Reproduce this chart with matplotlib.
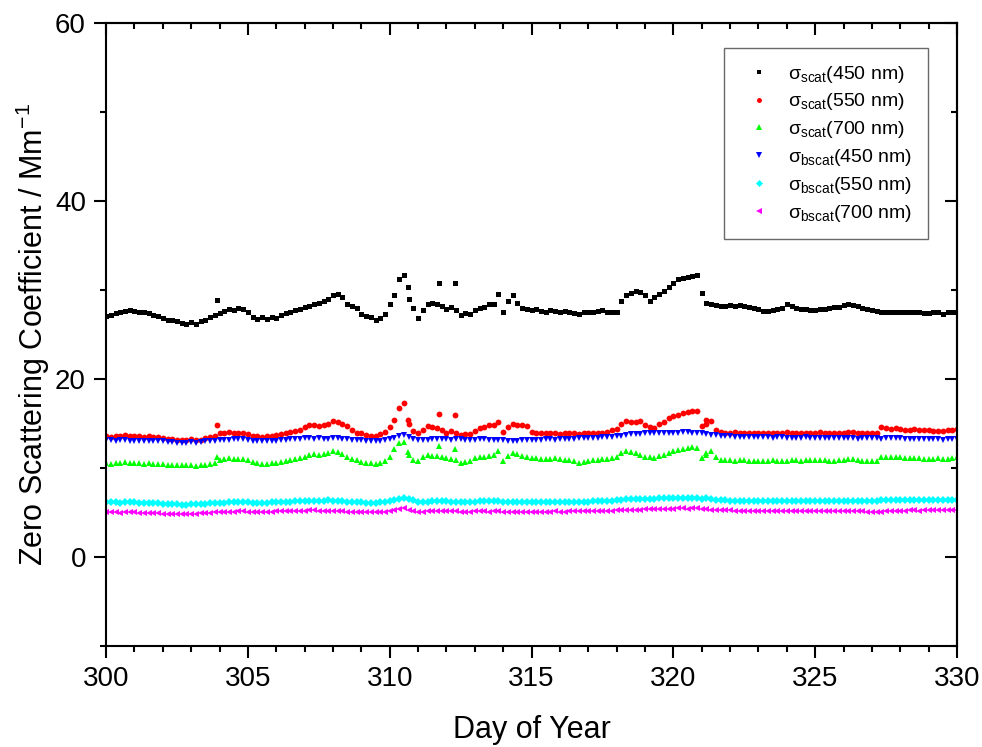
import matplotlib
matplotlib.use('Agg')
import matplotlib.pyplot as plt
import numpy as np

plt.rcParams['font.family'] = ['Liberation Sans', 'DejaVu Sans']
plt.rcParams['mathtext.fontset'] = 'custom'
plt.rcParams['mathtext.rm'] = 'Liberation Sans'
plt.rcParams['mathtext.it'] = 'Liberation Sans:italic'

# day of year, every 4 hours
days = np.linspace(300, 330, 181)

# values, one row = one day
scat_450 = [27.1, 27.2, 27.4, 27.5, 27.7, 27.8,
            27.7, 27.6, 27.5, 27.4, 27.2, 27.1,
            26.9, 26.7, 26.6, 26.5, 26.3, 26.2,
            26.4, 26.2, 26.5, 26.7, 27.0, 27.2,
            27.4, 27.7, 27.9, 27.8, 28.0, 27.9,
            27.6, 27.0, 26.8, 27.0, 26.8, 27.0,
            26.9, 27.2, 27.4, 27.6, 27.8, 27.9,
            28.1, 28.2, 28.4, 28.6, 28.8, 29.0,
            29.4, 29.6, 29.2, 28.5, 28.2, 28.0,
            27.3, 27.1, 27.0, 26.7, 26.9, 27.3,
            28.4, 29.5, 31.2, 31.7, 29.0, 28.0,
            26.9, 27.8, 28.5, 28.6, 28.4, 28.2,
            27.9, 28.1, 27.8, 27.2, 27.4, 27.3,
            27.8, 28.0, 28.1, 28.5, 28.4, 29.6,
            27.5, 28.8, 29.4, 28.6, 28.0, 27.9,
            27.8, 27.9, 27.7, 27.6, 27.8, 27.7,
            27.5, 27.7, 27.6, 27.4, 27.3, 27.5,
            27.5, 27.6, 27.7, 27.8, 27.6, 27.6,
            27.5, 28.8, 29.5, 29.7, 29.9, 29.8,
            29.5, 28.8, 29.2, 29.6, 29.9, 30.3,
            30.8, 31.2, 31.4, 31.5, 31.6, 31.7,
            29.7, 28.6, 28.4, 28.3, 28.2, 28.2,
            28.3, 28.2, 28.3, 28.2, 28.1, 28.0,
            27.9, 27.7, 27.7, 27.8, 27.9, 28.0,
            28.4, 28.2, 28.0, 27.9, 27.9, 27.8,
            27.8, 27.9, 27.9, 28.0, 28.1, 28.1,
            28.3, 28.4, 28.3, 28.2, 28.0, 27.9,
            27.8, 27.7, 27.6, 27.5, 27.6, 27.6,
            27.5, 27.5, 27.6, 27.6, 27.5, 27.4,
            27.4, 27.6, 27.5, 27.3, 27.5, 27.5,
            27.5]
scat_550 = [13.6, 13.5, 13.6, 13.6, 13.7, 13.6,
            13.6, 13.6, 13.5, 13.6, 13.5, 13.5,
            13.4, 13.3, 13.3, 13.2, 13.2, 13.2,
            13.3, 13.2, 13.2, 13.4, 13.5, 13.6,
            13.9, 14.0, 14.1, 14.0, 14.0, 14.0,
            13.8, 13.6, 13.6, 13.5, 13.6, 13.6,
            13.7, 13.8, 13.9, 14.1, 14.2, 14.3,
            14.6, 14.8, 14.9, 14.7, 14.9, 15.0,
            15.3, 15.2, 15.0, 14.7, 14.3, 14.0,
            13.9, 13.7, 13.6, 13.6, 13.8, 14.1,
            14.6, 15.4, 16.8, 17.3, 15.0, 14.2,
            13.9, 14.3, 14.7, 14.6, 14.5, 14.3,
            14.0, 14.2, 14.0, 13.7, 13.8, 13.8,
            14.2, 14.5, 14.6, 14.8, 14.9, 15.2,
            14.1, 14.6, 15.0, 14.9, 14.8, 14.7,
            14.1, 14.0, 14.0, 13.9, 13.9, 14.0,
            13.8, 13.9, 14.0, 14.0, 13.8, 13.9,
            13.9, 14.0, 14.0, 13.9, 14.1, 14.3,
            14.4, 15.0, 15.3, 15.2, 15.2, 15.3,
            14.9, 14.6, 14.5, 15.0, 15.2, 15.6,
            15.9, 16.0, 16.2, 16.3, 16.4, 16.4,
            14.7, 15.0, 15.3, 14.3, 14.1, 14.0,
            14.0, 14.1, 14.0, 14.0, 13.9, 14.0,
            14.0, 14.0, 13.9, 13.9, 14.0, 14.0,
            14.1, 14.0, 14.0, 13.9, 14.0, 14.0,
            14.0, 14.1, 14.0, 14.0, 13.9, 13.9,
            14.0, 14.1, 14.1, 14.0, 13.9, 13.9,
            13.9, 14.0, 14.6, 14.5, 14.4, 14.5,
            14.4, 14.3, 14.3, 14.4, 14.3, 14.3,
            14.3, 14.2, 14.2, 14.2, 14.3, 14.3,
            14.4]
scat_700 = [10.6, 10.5, 10.6, 10.6, 10.7, 10.6,
            10.6, 10.6, 10.5, 10.6, 10.5, 10.5,
            10.5, 10.4, 10.4, 10.4, 10.3, 10.3,
            10.3, 10.2, 10.3, 10.4, 10.5, 10.6,
            10.9, 11.0, 11.1, 11.0, 11.0, 11.0,
            10.9, 10.7, 10.6, 10.5, 10.5, 10.6,
            10.6, 10.7, 10.8, 10.9, 11.0, 11.1,
            11.3, 11.5, 11.6, 11.5, 11.6, 11.7,
            11.9, 11.8, 11.6, 11.3, 11.0, 10.9,
            10.7, 10.6, 10.6, 10.5, 10.6, 10.8,
            11.3, 12.1, 12.8, 12.9, 11.5, 10.9,
            10.8, 11.2, 11.5, 11.4, 11.4, 11.3,
            11.1, 11.0, 10.9, 10.6, 10.7, 10.8,
            11.1, 11.2, 11.3, 11.4, 11.5, 11.9,
            10.8, 11.4, 11.7, 11.6, 11.4, 11.2,
            11.1, 11.1, 11.0, 11.0, 11.0, 11.1,
            11.0, 10.9, 10.9, 10.8, 10.6, 10.7,
            10.8, 10.9, 10.9, 11.0, 11.0, 11.1,
            11.2, 11.7, 11.9, 11.8, 11.7, 11.5,
            11.3, 11.2, 11.1, 11.4, 11.5, 11.7,
            11.9, 12.0, 12.1, 12.3, 12.4, 12.3,
            11.1, 11.5, 11.9, 11.2, 10.9, 10.9,
            10.9, 10.8, 10.9, 10.9, 10.8, 10.8,
            10.8, 10.8, 10.8, 10.9, 10.8, 10.8,
            10.8, 10.9, 10.9, 10.8, 10.9, 10.9,
            10.9, 10.9, 10.9, 10.8, 10.8, 10.9,
            10.9, 11.0, 11.0, 10.9, 10.8, 10.8,
            10.8, 10.8, 11.3, 11.2, 11.2, 11.2,
            11.2, 11.1, 11.1, 11.1, 11.1, 11.0,
            11.0, 11.0, 11.1, 11.0, 11.0, 11.1,
            11.2]
bscat_450 = [13.2, 13.2, 13.1, 13.2, 13.2, 13.1,
             13.1, 13.1, 13.0, 13.1, 13.0, 13.0,
             13.0, 12.9, 12.9, 12.8, 12.8, 12.8,
             12.9, 12.8, 12.9, 13.0, 13.0, 13.1,
             13.2, 13.2, 13.2, 13.3, 13.3, 13.3,
             13.2, 13.1, 13.1, 13.1, 13.1, 13.1,
             13.1, 13.2, 13.2, 13.3, 13.3, 13.3,
             13.4, 13.4, 13.3, 13.4, 13.3, 13.3,
             13.4, 13.4, 13.3, 13.3, 13.2, 13.2,
             13.2, 13.1, 13.1, 13.1, 13.1, 13.2,
             13.3, 13.4, 13.6, 13.7, 13.5, 13.3,
             13.2, 13.2, 13.2, 13.3, 13.3, 13.3,
             13.3, 13.2, 13.3, 13.3, 13.2, 13.2,
             13.2, 13.3, 13.3, 13.2, 13.2, 13.2,
             13.2, 13.1, 13.1, 13.1, 13.2, 13.2,
             13.2, 13.2, 13.2, 13.3, 13.3, 13.2,
             13.3, 13.3, 13.3, 13.3, 13.4, 13.4,
             13.4, 13.4, 13.4, 13.5, 13.5, 13.5,
             13.6, 13.6, 13.7, 13.8, 13.8, 13.8,
             13.9, 13.9, 13.9, 13.9, 14.0, 14.0,
             14.0, 14.0, 14.1, 14.1, 14.0, 14.0,
             13.9, 13.8, 13.7, 13.7, 13.6, 13.6,
             13.6, 13.5, 13.5, 13.5, 13.5, 13.5,
             13.5, 13.5, 13.5, 13.4, 13.5, 13.5,
             13.4, 13.4, 13.4, 13.4, 13.5, 13.4,
             13.4, 13.4, 13.4, 13.4, 13.4, 13.4,
             13.4, 13.4, 13.4, 13.3, 13.4, 13.4,
             13.4, 13.4, 13.3, 13.4, 13.4, 13.4,
             13.4, 13.3, 13.3, 13.3, 13.3, 13.3,
             13.3, 13.3, 13.3, 13.2, 13.3, 13.3,
             13.3]
bscat_550 = [6.2, 6.2, 6.2, 6.1, 6.2, 6.2,
             6.2, 6.1, 6.1, 6.1, 6.1, 6.1,
             6.0, 6.0, 6.0, 6.0, 5.9, 5.9,
             6.0, 6.0, 6.0, 6.0, 6.1, 6.1,
             6.1, 6.1, 6.2, 6.2, 6.2, 6.2,
             6.2, 6.1, 6.1, 6.1, 6.1, 6.2,
             6.2, 6.2, 6.2, 6.2, 6.3, 6.3,
             6.3, 6.3, 6.3, 6.3, 6.3, 6.4,
             6.3, 6.3, 6.3, 6.2, 6.2, 6.2,
             6.2, 6.1, 6.1, 6.1, 6.2, 6.2,
             6.3, 6.4, 6.5, 6.6, 6.5, 6.4,
             6.2, 6.2, 6.2, 6.3, 6.3, 6.3,
             6.3, 6.2, 6.2, 6.2, 6.2, 6.2,
             6.2, 6.3, 6.3, 6.3, 6.3, 6.3,
             6.2, 6.2, 6.2, 6.2, 6.2, 6.2,
             6.2, 6.2, 6.2, 6.2, 6.2, 6.2,
             6.2, 6.2, 6.2, 6.2, 6.2, 6.2,
             6.2, 6.3, 6.3, 6.3, 6.3, 6.3,
             6.4, 6.4, 6.5, 6.5, 6.5, 6.5,
             6.5, 6.5, 6.5, 6.6, 6.6, 6.6,
             6.6, 6.6, 6.7, 6.6, 6.6, 6.6,
             6.5, 6.7, 6.5, 6.4, 6.4, 6.4,
             6.3, 6.3, 6.3, 6.3, 6.3, 6.3,
             6.3, 6.3, 6.3, 6.3, 6.3, 6.3,
             6.3, 6.3, 6.3, 6.3, 6.3, 6.3,
             6.3, 6.3, 6.3, 6.3, 6.3, 6.3,
             6.3, 6.3, 6.3, 6.3, 6.3, 6.3,
             6.3, 6.3, 6.4, 6.4, 6.4, 6.4,
             6.4, 6.4, 6.4, 6.4, 6.4, 6.4,
             6.4, 6.4, 6.4, 6.4, 6.4, 6.4,
             6.4]
bscat_700 = [5.1, 5.1, 5.1, 5.0, 5.1, 5.1,
             5.1, 5.0, 5.0, 5.0, 5.0, 5.0,
             4.9, 4.9, 4.9, 4.9, 4.9, 4.9,
             4.9, 4.9, 5.0, 5.0, 5.0, 5.1,
             5.1, 5.1, 5.1, 5.1, 5.2, 5.2,
             5.1, 5.1, 5.1, 5.1, 5.1, 5.1,
             5.2, 5.2, 5.2, 5.2, 5.2, 5.2,
             5.2, 5.3, 5.3, 5.2, 5.2, 5.2,
             5.2, 5.2, 5.2, 5.1, 5.1, 5.1,
             5.1, 5.1, 5.1, 5.1, 5.1, 5.1,
             5.2, 5.3, 5.4, 5.5, 5.3, 5.2,
             5.1, 5.1, 5.2, 5.2, 5.2, 5.2,
             5.2, 5.2, 5.2, 5.1, 5.1, 5.1,
             5.2, 5.2, 5.2, 5.1, 5.2, 5.2,
             5.1, 5.1, 5.1, 5.1, 5.1, 5.1,
             5.1, 5.1, 5.1, 5.1, 5.1, 5.2,
             5.1, 5.1, 5.2, 5.2, 5.2, 5.2,
             5.2, 5.2, 5.2, 5.2, 5.2, 5.2,
             5.3, 5.3, 5.3, 5.3, 5.3, 5.3,
             5.4, 5.4, 5.4, 5.4, 5.4, 5.4,
             5.4, 5.5, 5.5, 5.4, 5.5, 5.5,
             5.4, 5.4, 5.3, 5.3, 5.3, 5.3,
             5.3, 5.2, 5.2, 5.2, 5.2, 5.2,
             5.2, 5.2, 5.2, 5.2, 5.2, 5.2,
             5.2, 5.2, 5.2, 5.2, 5.2, 5.2,
             5.2, 5.2, 5.2, 5.2, 5.2, 5.2,
             5.2, 5.2, 5.2, 5.2, 5.2, 5.1,
             5.1, 5.1, 5.1, 5.2, 5.2, 5.2,
             5.2, 5.2, 5.3, 5.3, 5.2, 5.3,
             5.3, 5.3, 5.3, 5.3, 5.3, 5.3,
             5.3]

# stray points sitting above the bands
spike_days = [303.9, 310.65, 311.75, 312.3, 321.15]
spike_450 = [28.9, 30.3, 30.8, 30.8, 28.6]
spike_550 = [14.9, 15.4, 16.1, 16.0, 15.4]
spike_700 = [11.3, 11.8, 12.5, 12.1, 11.7]

series = [
    (scat_450, spike_450, 'k', 's', r'σ$_{\mathrm{scat}}$(450 nm)'),
    (scat_550, spike_550, '#ff0000', 'o', r'σ$_{\mathrm{scat}}$(550 nm)'),
    (scat_700, spike_700, '#00ff00', '^', r'σ$_{\mathrm{scat}}$(700 nm)'),
    (bscat_450, None, '#0000ff', 'v', r'σ$_{\mathrm{bscat}}$(450 nm)'),
    (bscat_550, None, '#00ffff', 'D', r'σ$_{\mathrm{bscat}}$(550 nm)'),
    (bscat_700, None, '#ff00ff', '<', r'σ$_{\mathrm{bscat}}$(700 nm)'),
]

fig = plt.figure(figsize=(9.82, 7.47), dpi=100)
ax = fig.add_axes([0.108, 0.135, 0.8665, 0.834])

for vals, spikes, col, mk, lab in series:
    ms = {'s': 3.6, 'o': 4.2, '^': 4.4, 'v': 4.8, 'D': 4.2, '<': 4.8}[mk]
    ax.plot(days, vals, linestyle='none', marker=mk, ms=ms, color=col,
            markeredgewidth=0, label=lab)
    if spikes is not None:
        ax.plot(spike_days, spikes, linestyle='none', marker=mk, ms=ms,
                color=col, markeredgewidth=0)

ax.set_xlim(300, 330)
ax.set_ylim(-10, 60)
ax.set_xticks(np.arange(300, 331, 5))
ax.set_xticks(np.arange(300, 331, 1), minor=True)
ax.set_yticks([0, 20, 40, 60])
ax.set_yticks(np.arange(-10, 61, 10), minor=True)
ax.tick_params(which='both', direction='out', width=1.5, labelsize=20, pad=6)
ax.tick_params(which='major', length=8.5)
ax.tick_params(which='minor', length=4.5)
for sp in ax.spines.values():
    sp.set_linewidth(1.5)

# Origin style: ticks pointing in on top and right
top = ax.secondary_xaxis('top')
top.set_xticks(np.arange(300, 331, 5))
top.set_xticks(np.arange(300, 331, 1), minor=True)
top.tick_params(which='both', direction='in', width=1.5, labeltop=False)
top.tick_params(which='major', length=8.5)
top.tick_params(which='minor', length=4.5)
top.spines['top'].set_linewidth(1.5)
right = ax.secondary_yaxis('right')
right.set_yticks([0, 20, 40, 60])
right.set_yticks(np.arange(-10, 61, 10), minor=True)
right.tick_params(which='both', direction='in', width=1.5, labelright=False)
right.tick_params(which='major', length=8.5)
right.tick_params(which='minor', length=4.5)
right.spines['right'].set_linewidth(1.5)

ax.set_xlabel('Day of Year', fontsize=22, labelpad=16)
ax.set_ylabel('Zero Scattering Coefficient / Mm$^{-1}$', fontsize=22, labelpad=2)

leg = ax.legend(loc='upper right', bbox_to_anchor=(0.966, 0.960), borderaxespad=0,
                fontsize=14, frameon=True, fancybox=False, edgecolor='#444444',
                handlelength=2.0, handletextpad=0.5, borderpad=0.8,
                labelspacing=0.35, numpoints=1, markerscale=0.85)
leg.get_frame().set_linewidth(1.0)

fig.savefig('out.png', dpi=100)
